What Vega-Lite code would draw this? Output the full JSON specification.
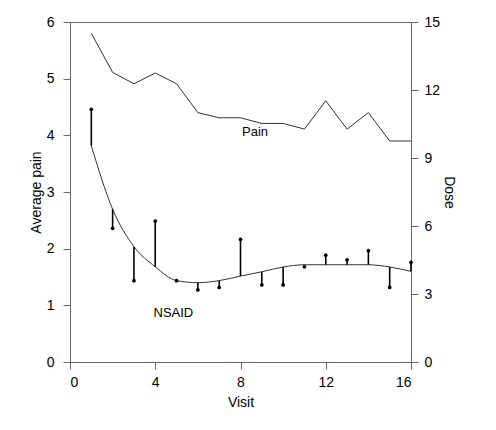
{
  "$schema": "https://vega.github.io/schema/vega-lite/v6.json",
  "autosize": "none",
  "width": 341,
  "height": 340,
  "padding": {"left": 70, "top": 22, "right": 85, "bottom": 68},
  "background": "white",
  "config": {
    "font": "Liberation Sans",
    "view": {"stroke": "#666", "strokeWidth": 1},
    "axis": {
      "grid": false,
      "domainColor": "#666",
      "tickColor": "#666",
      "tickSize": 7,
      "labelFontSize": 14,
      "titleFontSize": 14,
      "labelColor": "#000",
      "titleColor": "#000",
      "titleFontWeight": "normal",
      "labelFont": "Liberation Sans",
      "titleFont": "Liberation Sans"
    }
  },
  "datasets": {
    "visits": [
      {"visit": 1, "pain": 5.80, "curve": 9.54, "dose": 11.15},
      {"visit": 2, "pain": 5.11, "curve": 6.74, "dose": 5.90},
      {"visit": 3, "pain": 4.91, "curve": 5.09, "dose": 3.59},
      {"visit": 4, "pain": 5.10, "curve": 4.20, "dose": 6.22},
      {"visit": 5, "pain": 4.91, "curve": 3.59, "dose": 3.59},
      {"visit": 6, "pain": 4.40, "curve": 3.50, "dose": 3.18},
      {"visit": 7, "pain": 4.31, "curve": 3.59, "dose": 3.29},
      {"visit": 8, "pain": 4.31, "curve": 3.79, "dose": 5.41},
      {"visit": 9, "pain": 4.21, "curve": 3.98, "dose": 3.40},
      {"visit": 10, "pain": 4.21, "curve": 4.19, "dose": 3.40},
      {"visit": 11, "pain": 4.11, "curve": 4.29, "dose": 4.20},
      {"visit": 12, "pain": 4.61, "curve": 4.29, "dose": 4.71},
      {"visit": 13, "pain": 4.11, "curve": 4.29, "dose": 4.51},
      {"visit": 14, "pain": 4.40, "curve": 4.29, "dose": 4.91},
      {"visit": 15, "pain": 3.90, "curve": 4.19, "dose": 3.29},
      {"visit": 16, "pain": 3.90, "curve": 4.00, "dose": 4.40}
    ],
    "painLabel": [{"label": "Pain", "visit": 8.68, "pain": 4.06}],
    "doseLabel": [{"label": "NSAID", "visit": 4.85, "dose": 2.15}]
  },
  "resolve": {"scale": {"y": "independent"}},
  "layer": [
    {
      "layer": [
        {
          "data": {"name": "visits"},
          "mark": {"type": "line", "color": "#333", "strokeWidth": 1},
          "encoding": {
            "x": {"field": "visit", "type": "quantitative", "scale": {"domain": [0, 16], "nice": false},
                  "axis": {"values": [0, 4, 8, 12, 16], "title": "Visit", "labelPadding": 6, "titlePadding": 6}},
            "y": {"field": "pain", "type": "quantitative", "scale": {"domain": [0, 6], "nice": false},
                  "axis": {"orient": "left", "values": [0, 1, 2, 3, 4, 5, 6], "format": "d", "title": "Average pain", "labelPadding": 9, "titlePadding": 3}}
          }
        },
        {
          "data": {"name": "painLabel"},
          "mark": {"type": "text", "fontSize": 13, "color": "#000"},
          "encoding": {
            "x": {"field": "visit", "type": "quantitative"},
            "y": {"field": "pain", "type": "quantitative"},
            "text": {"field": "label"}
          }
        }
      ]
    },
    {
      "layer": [
        {
          "data": {"name": "visits"},
          "mark": {"type": "line", "color": "#333", "strokeWidth": 1, "interpolate": "monotone"},
          "encoding": {
            "x": {"field": "visit", "type": "quantitative"},
            "y": {"field": "curve", "type": "quantitative", "scale": {"domain": [0, 15], "nice": false},
                  "axis": {"orient": "right", "values": [0, 3, 6, 9, 12, 15], "format": "d", "title": "Dose", "titleAngle": 90, "labelPadding": 6, "titlePadding": 2}}
          }
        },
        {
          "data": {"name": "visits"},
          "mark": {"type": "rule", "color": "#000", "strokeWidth": 1.6},
          "encoding": {
            "x": {"field": "visit", "type": "quantitative"},
            "y": {"field": "curve", "type": "quantitative"},
            "y2": {"field": "dose"}
          }
        },
        {
          "data": {"name": "visits"},
          "mark": {"type": "circle", "color": "#000", "size": 14, "opacity": 1},
          "encoding": {
            "x": {"field": "visit", "type": "quantitative"},
            "y": {"field": "dose", "type": "quantitative"}
          }
        },
        {
          "data": {"name": "doseLabel"},
          "mark": {"type": "text", "fontSize": 13, "color": "#000"},
          "encoding": {
            "x": {"field": "visit", "type": "quantitative"},
            "y": {"field": "dose", "type": "quantitative"},
            "text": {"field": "label"}
          }
        }
      ]
    }
  ]
}
